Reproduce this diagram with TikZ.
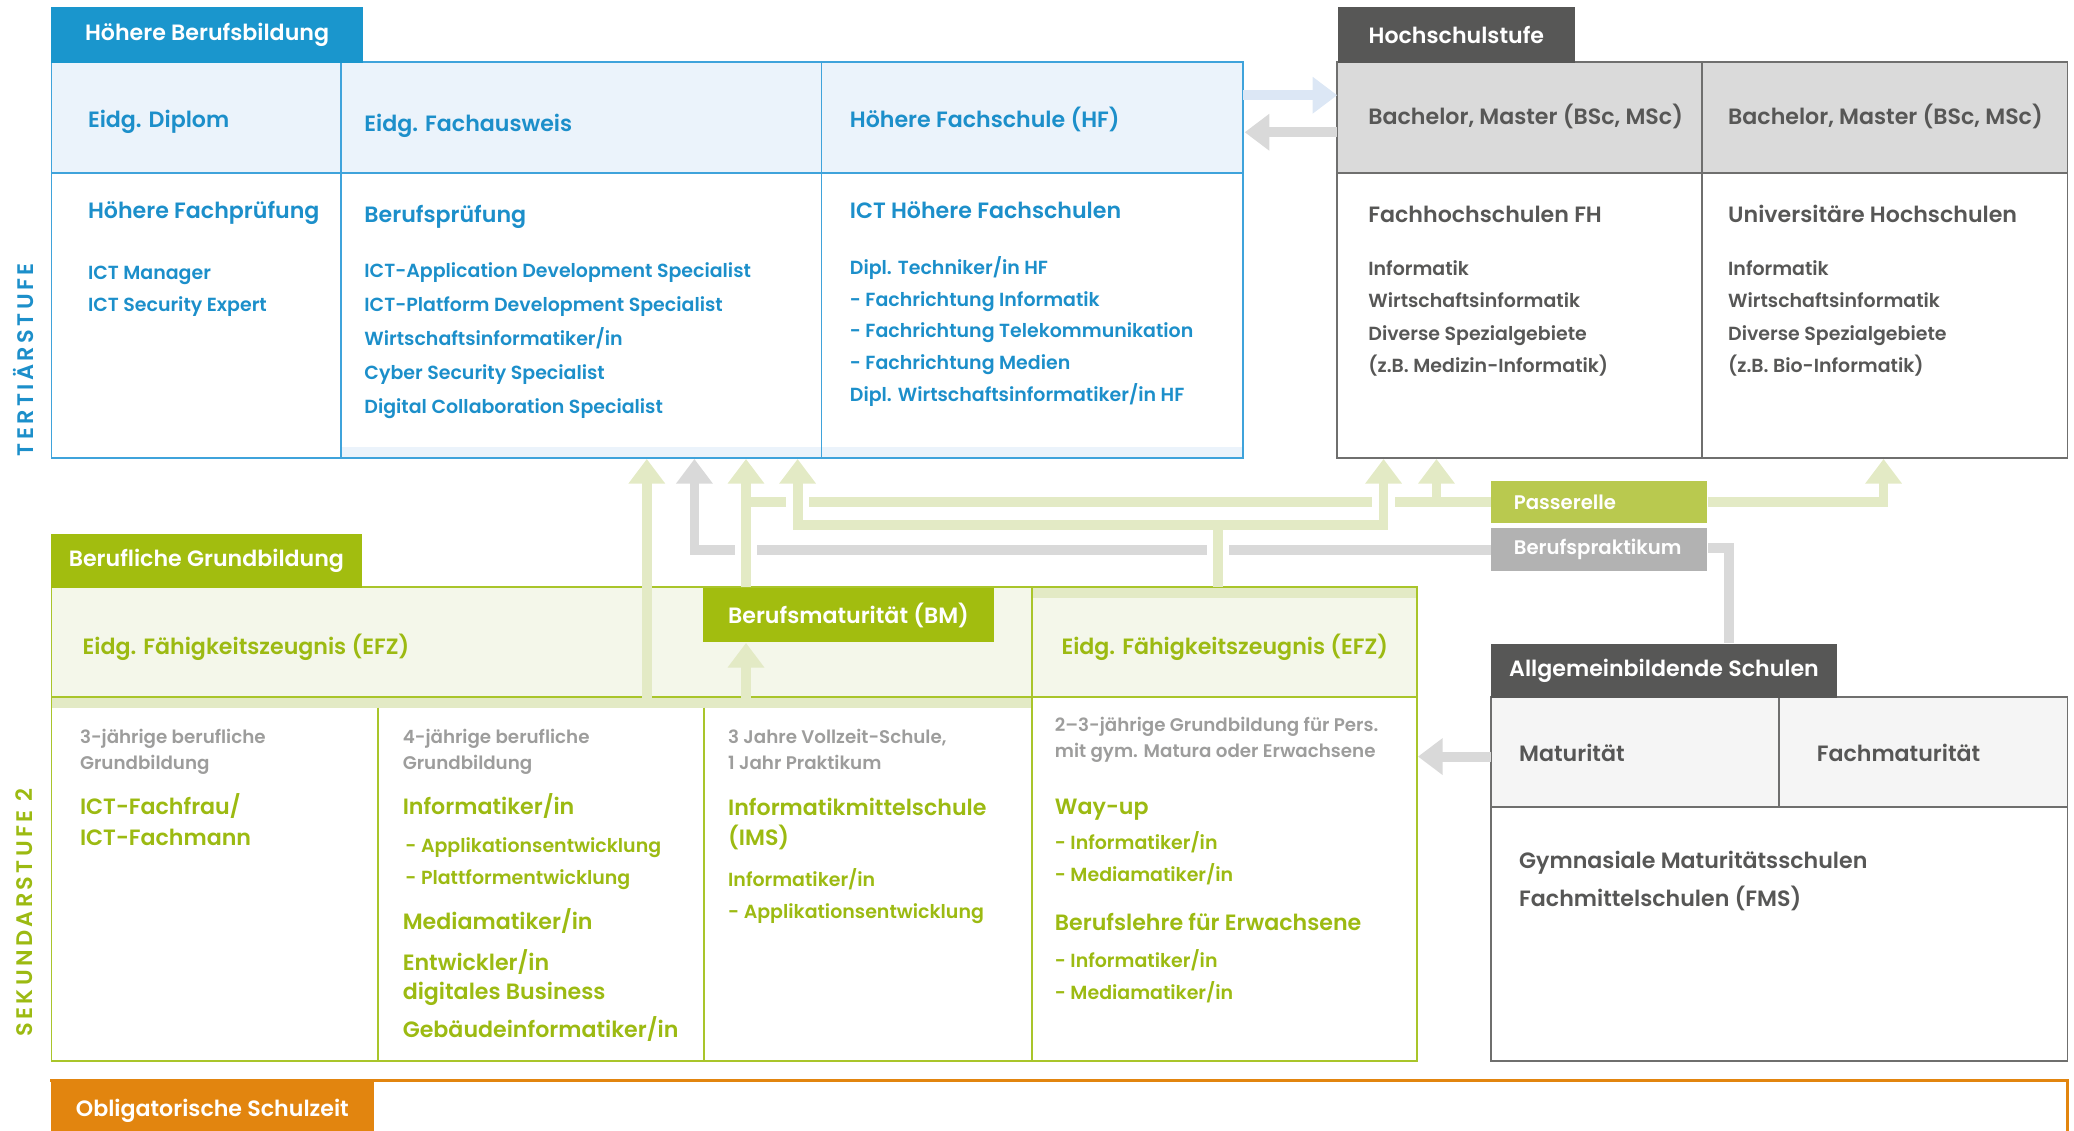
\documentclass[tikz,border=0pt]{standalone}
\usepackage{fontspec}
\setmainfont{Poppins}[UprightFont={* Medium},BoldFont={* SemiBold}]
\usetikzlibrary{arrows.meta}

\definecolor{hbbBlue}{HTML}{1A96CD}
\definecolor{txtBlue}{HTML}{1C8FCA}
\definecolor{ruleBlue}{HTML}{3FA3DB}
\definecolor{fillBlue}{HTML}{EBF3FB}
\definecolor{arrBlue}{HTML}{DCE7F5}
\definecolor{darkGrey}{HTML}{575756}
\definecolor{fillGrey}{HTML}{DADADA}
\definecolor{ruleGrey}{HTML}{6F6F6E}
\definecolor{fillAS}{HTML}{F5F5F5}
\definecolor{bgGreen}{HTML}{A2BD0F}
\definecolor{txtGreen}{HTML}{9CBA12}
\definecolor{ruleGreen}{HTML}{A9C52A}
\definecolor{fillGreen}{HTML}{F4F7EA}
\definecolor{paleGreen}{HTML}{E3EAC5}
\definecolor{passGreen}{HTML}{B9C94F}
\definecolor{prakGrey}{HTML}{B2B2B2}
\definecolor{arrGrey}{HTML}{D9D9D9}
\definecolor{descrGrey}{HTML}{9D9D9C}
\definecolor{oblOrange}{HTML}{E2850F}

\newdimen\pxu \pxu=0.13227mm
\newcommand\headfont{\fontsize{6.3}{7.5}\selectfont\bfseries}
\newcommand\itemfont{\fontsize{5.4}{6.5}\selectfont\bfseries}
\newcommand\tagfont{\fontsize{5.6}{6.5}\selectfont\bfseries}
\newcommand\descrfont{\fontsize{5.2}{6}\selectfont\bfseries}
\newcommand\sidefont{\fontsize{6.4}{7}\selectfont\bfseries\addfontfeatures{LetterSpace=15}}

\begin{document}
\begin{tikzpicture}[
  x = 0.13227mm, y = -0.13227mm,
  > = {Triangle[width=10pt,length=7pt]},
  gline/.style = {draw=paleGreen, line width=2.8pt},
  kline/.style = {draw=arrGrey, line width=2.8pt},
  bline/.style = {draw=arrBlue, line width=2.8pt},
  gap/.style = {draw=white, line width=6.4pt},
  tab/.style = {fill=#1, text=white, font=\headfont, inner sep=0pt, anchor=north west},
  tag/.style = {fill=#1, inner sep=0pt, anchor=north west, minimum width=163*\pxu, minimum height=32*\pxu},
  head/.style = {anchor=base west, inner sep=0pt, font=\headfont},
  item/.style = {anchor=base west, inner sep=0pt, font=\itemfont},
  descr/.style = {anchor=base west, inner sep=0pt, font=\descrfont, text=descrGrey}
  ]
  \useasboundingbox (0,0) rectangle (1568,855);

  % side labels
  \node[rotate=90, font=\sidefont, text=txtBlue] (lblTert) at (18,272) {TERTIÄRSTUFE};
  \node[rotate=90, font=\sidefont, text=txtGreen] (lblSek) at (18,690) {SEKUNDARSTUFE 2};

  % hoehere Berufsbildung
  \fill[fillBlue] (39,47) rectangle (940,131);
  \fill[fillBlue] (258,338) rectangle (940,346);
  \draw[ruleBlue, line width=0.5pt] (39,47) rectangle (940,346)
    (39,131) -- (940,131) (258,47) -- (258,346) (621,47) -- (621,346);
  \node[tab=hbbBlue, minimum width=236*\pxu, minimum height=42*\pxu] (tabHBB) at (38,5) {Höhere Berufsbildung};

  % Hochschulstufe
  \fill[fillGrey] (1011,47) rectangle (1563,131);
  \draw[ruleGrey, line width=0.5pt] (1011,47) rectangle (1563,346)
    (1011,131) -- (1563,131) (1287,47) -- (1287,346);
  \node[tab=darkGrey, minimum width=179*\pxu, minimum height=42*\pxu] (tabHS) at (1011,5) {Hochschulstufe};

  % berufliche Grundbildung
  \fill[fillGreen] (39,444) rectangle (1071,527);
  \fill[paleGreen] (39,527) rectangle (780,535);
  \fill[paleGreen] (780,444) rectangle (1071,452);
  \draw[ruleGreen, line width=0.5pt] (39,444) rectangle (1071,802)
    (39,527) -- (1071,527) (780,444) -- (780,802)
    (286,535) -- (286,802) (532,535) -- (532,802);
  \node[tab=bgGreen, minimum width=235*\pxu, minimum height=41*\pxu] (tabBG) at (38,403) {Berufliche Grundbildung};
  \node[tab=bgGreen, minimum width=220*\pxu, minimum height=41*\pxu] (tabBM) at (531,444) {Berufsmaturität (BM)};

  % allgemeinbildende Schulen
  \fill[fillAS] (1127,527) rectangle (1563,610);
  \draw[ruleGrey, line width=0.5pt] (1127,527) rectangle (1563,802)
    (1127,610) -- (1563,610) (1345,527) -- (1345,610);
  \node[tab=darkGrey, minimum width=261*\pxu, minimum height=41*\pxu] (tabAS) at (1127,486) {Allgemeinbildende Schulen};

  % obligatorische Schulzeit
  \draw[oblOrange, line width=0.8pt] (38,817) -- (1563,817) -- (1563,860);
  \node[tab=oblOrange, minimum width=244*\pxu, minimum height=44*\pxu] (tabOS) at (38,817) {Obligatorische Schulzeit};

  % Passerelle / Berufspraktikum
  \node[tag=passGreen] (boxPass) at (1127,363) {};
  \node[anchor=west, inner sep=0pt, text=white, font=\tagfont] (lblPass) at ([xshift=17*\pxu]boxPass.west) {Passerelle};
  \node[tag=prakGrey] (boxPrak) at (1127,399) {};
  \node[anchor=west, inner sep=0pt, text=white, font=\tagfont] (lblPrak) at ([xshift=17*\pxu]boxPrak.west) {Berufspraktikum};

  % arrow points
  \coordinate (hbbR1) at (940,72);
  \coordinate (hsL1) at (1011,72);
  \coordinate (hsL2) at (1011,100);
  \coordinate (hbbR2) at (941,100);
  \coordinate (asL) at (1127,572);
  \coordinate (bgR) at (1072,572);
  \coordinate (tA) at (489,347);
  \coordinate (tB) at (525,347);
  \coordinate (tC) at (564,347);
  \coordinate (tD) at (603,347);
  \coordinate (tE) at (1046,347);
  \coordinate (tF) at (1086,347);
  \coordinate (tG) at (1424,347);
  \coordinate (kTurn) at (1307,414);
  \coordinate (gTurn) at (921,397);

  \draw[bline,->] (hbbR1) -- (hsL1);
  \draw[kline,->] (hsL2) -- (hbbR2);
  \draw[kline,->] (asL) -- (bgR);

  % Berufspraktikum
  \draw[kline] (kTurn |- tabAS.north) -- (kTurn) -- (kTurn -| boxPrak.east);
  \draw[kline,->,line join=miter] (boxPrak.west) -- (tB |- boxPrak.west) -- (tB);

  % Passerelle
  \draw[gline] (boxPass.west) -- (tC |- boxPass.west);
  \draw[gline,->,line join=miter] (boxPass.east) -- (tG |- boxPass.east) -- (tG);
  \draw[gline,->] (tF |- boxPass.west) -- (tF);

  % EFZ / BM
  \draw[gap] (tC |- 0,407) -- (tC |- 0,421);
  \draw[gap] (gTurn |- 0,407) -- (gTurn |- 0,421);
  \draw[gline,->] (tC |- tabBM.north) -- (tC);
  \draw[gline,->] (tC |- 0,531) -- (tC |- tabBM.south);
  \draw[gline,->] (tA |- 0,531) -- (tA);
  \draw[gap] (tD |- 0,372) -- (tD |- 0,386);
  \draw[gap] (tE |- 0,372) -- (tE |- 0,386);
  \draw[gline,->,line join=miter] (gTurn |- 0,444) -- (gTurn) -- (tD |- gTurn) -- (tD);
  \draw[gline,->,line join=miter] (gTurn) -- (tE |- gTurn) -- (tE);

  % texts Hoehere Berufsbildung
  \node[head, text=txtBlue] (dipl) at (66,96.5) {Eidg. Diplom};
  \node[head, text=txtBlue] (faus) at (275,99.5) {Eidg. Fachausweis};
  \node[head, text=txtBlue] (hfs) at (642,96.5) {Höhere Fachschule (HF)};
  \node[head, text=txtBlue] (hfp) at (66,165.5) {Höhere Fachprüfung};
  \node[head, text=txtBlue] (bpr) at (275,168.5) {Berufsprüfung};
  \node[head, text=txtBlue] (icthf) at (642,165.5) {ICT Höhere Fachschulen};
  \foreach \t [count=\i] in {ICT Manager, ICT Security Expert}
    \node[item, text=txtBlue] (hfp-\i) at (66,187.5+24*\i) {\t};
  \foreach \t [count=\i] in {ICT-Application Development Specialist, ICT-Platform Development Specialist,
      Wirtschaftsinformatiker/in, Cyber Security Specialist, Digital Collaboration Specialist}
    \node[item, text=txtBlue] (bpr-\i) at (275,183.7+25.8*\i) {\t};
  \foreach \t [count=\i] in {Dipl. Techniker/in HF, - Fachrichtung Informatik, - Fachrichtung Telekommunikation,
      - Fachrichtung Medien, Dipl. Wirtschaftsinformatiker/in HF}
    \node[item, text=txtBlue] (icthf-\i) at (642,183.5+24*\i) {\t};

  % texts Hochschulstufe
  \node[head, text=darkGrey] (bmA) at (1034,94.5) {Bachelor, Master (BSc, MSc)};
  \node[head, text=darkGrey] (bmB) at (1306,94.5) {Bachelor, Master (BSc, MSc)};
  \node[head, text=darkGrey] (fhs) at (1034,168.5) {Fachhochschulen FH};
  \node[head, text=darkGrey] (uhs) at (1306,168.5) {Universitäre Hochschulen};
  \foreach \t [count=\i] in {Informatik, Wirtschaftsinformatik, Diverse Spezialgebiete, (z.B. Medizin-Informatik)}
    \node[item, text=darkGrey] (fhs-\i) at (1034,184.2+24.3*\i) {\t};
  \foreach \t [count=\i] in {Informatik, Wirtschaftsinformatik, Diverse Spezialgebiete, (z.B. Bio-Informatik)}
    \node[item, text=darkGrey] (uhs-\i) at (1306,184.2+24.3*\i) {\t};

  % texts berufliche Grundbildung
  \node[head, text=txtGreen] (efzA) at (62,494.5) {Eidg. Fähigkeitszeugnis (EFZ)};
  \node[head, text=txtGreen] (efzB) at (802,494.5) {Eidg. Fähigkeitszeugnis (EFZ)};

  \node[descr] (c1a) at (60,562) {3-jährige berufliche};
  \node[descr] (c1b) at (60,582) {Grundbildung};
  \node[head, text=txtGreen] (c1c) at (60,615.5) {ICT-Fachfrau/};
  \node[head, text=txtGreen] (c1d) at (60,639.5) {ICT-Fachmann};

  \node[descr] (c2a) at (304,562) {4-jährige berufliche};
  \node[descr] (c2b) at (304,582) {Grundbildung};
  \node[head, text=txtGreen] (c2c) at (304,615.5) {Informatiker/in};
  \node[item, text=txtGreen] (c2d) at (306,644.5) {- Applikationsentwicklung};
  \node[item, text=txtGreen] (c2e) at (306,668.5) {- Plattformentwicklung};
  \node[head, text=txtGreen] (c2f) at (304,702.5) {Mediamatiker/in};
  \node[head, text=txtGreen] (c2g) at (304,733.5) {Entwickler/in};
  \node[head, text=txtGreen] (c2h) at (304,755.5) {digitales Business};
  \node[head, text=txtGreen] (c2i) at (304,784.5) {Gebäudeinformatiker/in};

  \node[descr] (c3a) at (550,562) {3 Jahre Vollzeit-Schule,};
  \node[descr] (c3b) at (550,582) {1 Jahr Praktikum};
  \node[head, text=txtGreen] (c3c) at (550,616.5) {Informatikmittelschule};
  \node[head, text=txtGreen] (c3d) at (550,639.5) {(IMS)};
  \node[item, text=txtGreen] (c3e) at (550,670.5) {Informatiker/in};
  \node[item, text=txtGreen] (c3f) at (550,694.5) {- Applikationsentwicklung};

  \node[descr] (c4a) at (797,553) {2–3-jährige Grundbildung für Pers.};
  \node[descr] (c4b) at (797,573) {mit gym. Matura oder Erwachsene};
  \node[head, text=txtGreen] (c4c) at (797,615.5) {Way-up};
  \node[item, text=txtGreen] (c4d) at (797,642.5) {- Informatiker/in};
  \node[item, text=txtGreen] (c4e) at (797,666.5) {- Mediamatiker/in};
  \node[head, text=txtGreen] (c4f) at (797,703.5) {Berufslehre für Erwachsene};
  \node[item, text=txtGreen] (c4g) at (797,731.5) {- Informatiker/in};
  \node[item, text=txtGreen] (c4h) at (797,755.5) {- Mediamatiker/in};

  % texts allgemeinbildende Schulen
  \node[head, text=darkGrey] (mat) at (1148,575.5) {Maturität};
  \node[head, text=darkGrey] (fmat) at (1373,575.5) {Fachmaturität};
  \node[head, text=darkGrey] (gym) at (1148,656.5) {Gymnasiale Maturitätsschulen};
  \node[head, text=darkGrey] (fms) at (1148,685.5) {Fachmittelschulen (FMS)};
\end{tikzpicture}
\end{document}
